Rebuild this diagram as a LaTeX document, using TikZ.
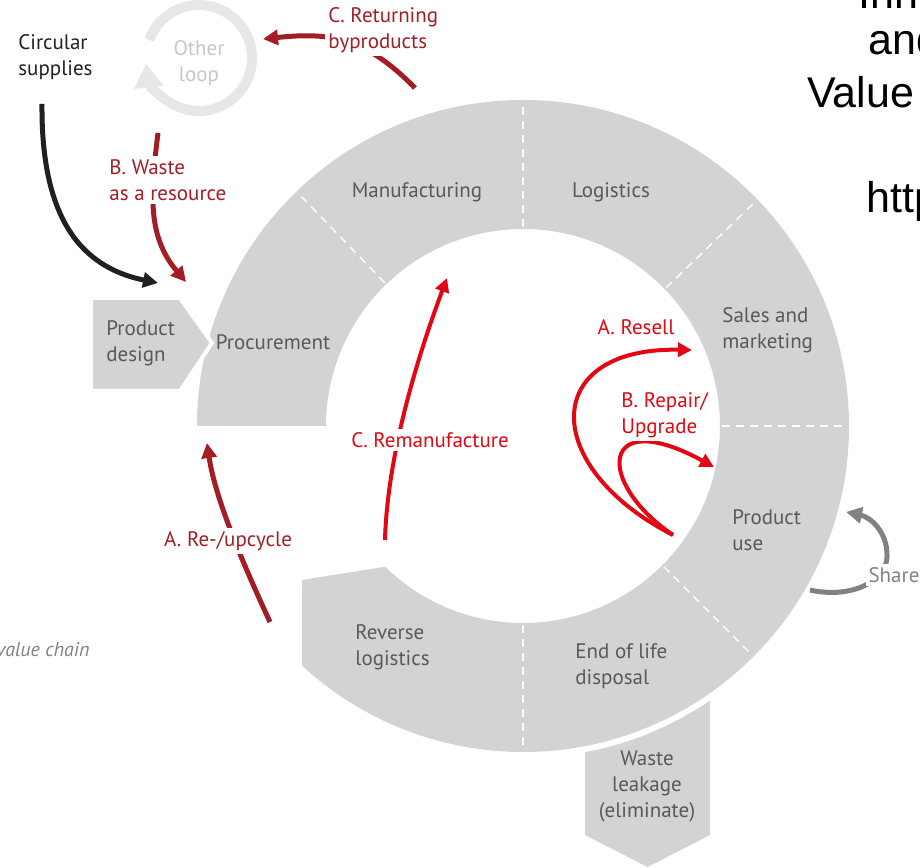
\documentclass[tikz,border=0pt]{standalone}
\usepackage{fontspec}
\setmainfont{PT Sans}
\newfontfamily\slidefont{Liberation Sans}
\usetikzlibrary{arrows.meta}
\definecolor{ringgray}{RGB}{209,211,212}
\definecolor{labelgray}{RGB}{88,89,91}
\definecolor{darkred}{RGB}{163,30,36}
\definecolor{brightred}{RGB}{227,6,19}
\definecolor{sharegray}{RGB}{128,130,133}
\definecolor{loopgray}{RGB}{230,231,232}
\definecolor{looptext}{RGB}{196,198,200}
\definecolor{inkblack}{RGB}{35,31,32}
\tikzstyle{ringtext} = [font=\fontsize{10.5}{13}\selectfont, text=labelgray, inner sep=0pt]
\tikzstyle{looplabel} = [font=\fontsize{10.5}{13}\selectfont, fill=white, inner sep=1.5pt]
\tikzstyle{loopline} = [line width=2.5pt, -{Triangle[length=7.5pt,width=7.5pt]}]
\tikzstyle{innerline} = [line width=2pt, brightred, -{Triangle[length=7pt,width=7pt]}]
\tikzstyle{slidetext} = [font=\slidefont\fontsize{21.5}{26}\selectfont, anchor=base west, inner sep=0pt]

\begin{document}
\begin{tikzpicture}[x=0.5pt, y=0.5pt]
        \useasboundingbox (0,0) rectangle (920,867);
        \clip (0,0) rectangle (920,867);
        % waste leakage sits under the ring
        \fill[ringgray] (585,250) -- (710,250) -- (710,32) -- (647.5,0) -- (585,32) -- cycle;
        \fill[white] (523,441) circle[radius=332];
        % the ring and its dashed stages
        \begin{scope}[shift={(523,441)}]
                \fill[ringgray] (180:326) arc[start angle=180, end angle=-132.7, radius=326]
                        -- (-221,-154) -- (-134.4:197) arc[start angle=-134.4, end angle=180, radius=197] -- cycle;
                \foreach \a in {134,90,44,0,-45,-90}
                        \draw[white, line width=0.7pt, dash pattern=on 4pt off 3pt] (\a:199) -- (\a:324);
        \end{scope}
        \fill[ringgray, draw=white, line width=2pt] (91,569) -- (180,569) -- (212,524) -- (180,476) -- (91,476) -- cycle;

        % stage names
        \node[ringtext] (procurement) at (273,525) {Procurement};
        \node[ringtext] (manufacturing) at (417,675) {Manufacturing};
        \node[ringtext] (logistics) at (611,675) {Logistics};
        \node[ringtext, align=left, anchor=west] (sales) at (722,537) {Sales and\\marketing};
        \node[ringtext, align=left, anchor=west] (use) at (732,337) {Product\\use};
        \node[ringtext, align=left, anchor=west] (disposal) at (575,201) {End of life\\disposal};
        \node[ringtext, align=left, anchor=west] (reverse) at (355,220) {Reverse\\logistics};
        \node[ringtext, align=center] (leakage) at (647,81) {Waste\\leakage\\(eliminate)};
        \node[ringtext, align=left, anchor=west] (design) at (106,524) {Product\\design};
        \node[ringtext, text=inkblack, align=left, anchor=west] (supplies) at (18,810) {Circular\\supplies};

        % other loop
        \draw[loopgray, line width=5pt, -{Triangle[length=12pt,width=14pt]}] (199,809) ++(160:53) arc[start angle=160, end angle=-174, radius=53];
        \node[ringtext, text=looptext, align=center] (otherloop) at (199,804) {Other\\loop};

        % free ends of the loops
        \coordinate (suppliesStart) at (42,763);
        \coordinate (suppliesEnd) at (158,584);
        \coordinate (wasteStart) at (158,734);
        \coordinate (wasteEnd) at (186,585);
        \coordinate (byproductsStart) at (415,779);
        \coordinate (byproductsEnd) at (263,828);
        \coordinate (recycleStart) at (270,245);
        \coordinate (recycleEnd) at (207,424);
        \coordinate (remanStart) at (385,327);
        \coordinate (remanEnd) at (447,589);
        \coordinate (useStart) at (673,332);
        \coordinate (resellEnd) at (692,517);
        \coordinate (repairEnd) at (714,400);
        \coordinate (shareStart) at (810,277);
        \coordinate (shareEnd) at (846,355);

        \draw[loopline, inkblack] (suppliesStart) .. controls (41,650) and (80,600) .. (suppliesEnd);
        \draw[loopline, darkred] (wasteStart) .. controls (150,670) and (148,630) .. (wasteEnd);
        \draw[loopline, darkred] (byproductsStart) .. controls (365,830) and (330,835) .. (byproductsEnd);
        \draw[loopline, darkred] (recycleStart) .. controls (240,310) and (215,370) .. (recycleEnd);
        \draw[innerline] (remanStart) .. controls (387,400) and (410,490) .. (remanEnd);
        \draw[innerline] (useStart) .. controls (540,400) and (540,520) .. (resellEnd);
        \draw[innerline] (useStart) .. controls (595,385) and (600,462) .. (repairEnd);
        \draw[loopline, sharegray, -{Triangle[length=8pt,width=8pt]}] (shareStart) .. controls (850,268) and (886,285) .. (887,310)
                .. controls (888,335) and (870,350) .. (shareEnd);

        % loop names
        \node[looplabel, text=darkred, align=left, anchor=west] (waste) at (106,687) {B. Waste\\as a resource};
        \node[looplabel, text=darkred, align=left, anchor=west] (byproducts) at (325,837) {C. Returning\\byproducts};
        \node[looplabel, text=darkred] (recycle) at (228,326) {A. Re-/upcycle};
        \node[looplabel, text=brightred] (reman) at (430,427) {C. Remanufacture};
        \node[looplabel, text=brightred] (resell) at (636,540) {A. Resell};
        \node[looplabel, text=brightred, align=left, anchor=west] (repair) at (618,452) {B. Repair/\\Upgrade};
        \node[looplabel, text=sharegray] (share) at (894,292) {Share};
        \node[font=\fontsize{10}{12}\selectfont\itshape, text=sharegray, anchor=base east, inner sep=0pt] (chain) at (90,210) {value chain};

        % slide text cut by the edge
        \node[slidetext] (inno) at (858,858) {Inno};
        \node[slidetext] (and) at (868,812) {and};
        \node[slidetext] (value) at (807,759) {Value};
        \node[slidetext] (http) at (866,654) {http};
\end{tikzpicture}
\end{document}
